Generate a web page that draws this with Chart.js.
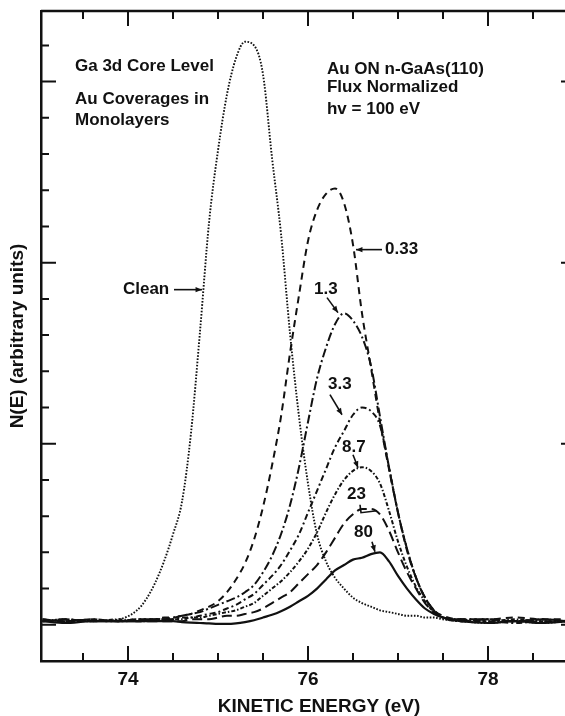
<!DOCTYPE html>
<html>
<head>
<meta charset="utf-8">
<title>Ga 3d core level, Au on n-GaAs(110)</title>
<script src="https://cdn.jsdelivr.net/npm/chart.js@4.4.1/dist/chart.umd.min.js"></script>
<style>
  html, body { margin: 0; padding: 0; background: #fff; overflow: hidden; }
  #wrap { width: 600px; height: 716px; }
</style>
</head>
<body>
<div id="wrap"><canvas id="spectra" width="600" height="716"></canvas></div>
<script>
const ink = '#111';
const FONT = 'Liberation Sans';

// kinetic energy grid (eV)
const energy = [73.05, 73.3, 73.6, 73.9, 74.1, 74.2, 74.3, 74.4, 74.5, 74.6, 74.7, 74.8, 74.9,
  75.0, 75.1, 75.2, 75.3, 75.4, 75.5, 75.6, 75.7, 75.8, 75.9, 76.0, 76.1, 76.2, 76.3, 76.4,
  76.5, 76.6, 76.7, 76.8, 76.9, 77.0, 77.1, 77.2, 77.3, 77.4, 77.5, 77.7, 78.0, 78.3, 78.6, 78.9];

// N(E) for each Au coverage (monolayers), flux normalized
const clean = [0.02, 0.03, 0.02, 0.03, 0.08, 0.14, 0.23, 0.35, 0.5, 0.68, 1.06, 1.62, 2.22,
  2.62, 2.93, 3.13, 3.22, 3.2, 3.04, 2.58, 2.16, 1.61, 1.15, 0.78, 0.5, 0.35, 0.26, 0.2,
  0.15, 0.12, 0.1, 0.08, 0.07, 0.06, 0.05, 0.05, 0.04, 0.04, 0.03, 0.02, 0.01, 0.02, 0.01, 0.02];
const cov033 = [0.03, 0.02, 0.03, 0.02, 0.03, 0.03, 0.03, 0.04, 0.04, 0.05, 0.06, 0.08, 0.1,
  0.13, 0.18, 0.25, 0.34, 0.47, 0.65, 0.88, 1.15, 1.5, 1.82, 2.12, 2.29, 2.38, 2.41, 2.33,
  2.1, 1.72, 1.42, 1.12, 0.86, 0.62, 0.41, 0.26, 0.15, 0.08, 0.05, 0.03, 0.03, 0.04, 0.03, 0.03];
const cov13 = [0.02, 0.03, 0.02, 0.02, 0.03, 0.03, 0.03, 0.03, 0.04, 0.05, 0.06, 0.07, 0.09,
  0.11, 0.13, 0.15, 0.18, 0.22, 0.29, 0.38, 0.5, 0.66, 0.87, 1.12, 1.36, 1.53, 1.66, 1.72,
  1.68, 1.59, 1.43, 1.15, 0.87, 0.62, 0.42, 0.26, 0.15, 0.08, 0.04, 0.03, 0.03, 0.02, 0.03, 0.02];
const cov33 = [0.02, 0.02, 0.03, 0.02, 0.02, 0.03, 0.03, 0.03, 0.03, 0.04, 0.04, 0.05, 0.06,
  0.07, 0.09, 0.11, 0.14, 0.17, 0.22, 0.27, 0.33, 0.41, 0.5, 0.62, 0.74, 0.86, 0.98, 1.07,
  1.16, 1.2, 1.18, 1.1, 0.87, 0.62, 0.42, 0.26, 0.15, 0.08, 0.04, 0.02, 0.02, 0.01, 0.02, 0.02];
const cov87 = [0.03, 0.02, 0.02, 0.03, 0.02, 0.02, 0.03, 0.03, 0.03, 0.03, 0.04, 0.04, 0.05,
  0.06, 0.07, 0.08, 0.1, 0.12, 0.16, 0.2, 0.24, 0.29, 0.35, 0.42, 0.51, 0.62, 0.72, 0.8,
  0.85, 0.87, 0.85, 0.78, 0.63, 0.46, 0.32, 0.21, 0.13, 0.07, 0.04, 0.03, 0.02, 0.03, 0.02, 0.02];
const cov23 = [0.02, 0.03, 0.02, 0.02, 0.02, 0.02, 0.02, 0.02, 0.02, 0.02, 0.03, 0.03, 0.03,
  0.04, 0.05, 0.05, 0.06, 0.07, 0.09, 0.12, 0.15, 0.18, 0.23, 0.28, 0.33, 0.4, 0.48, 0.56,
  0.61, 0.64, 0.64, 0.61, 0.52, 0.4, 0.29, 0.2, 0.12, 0.07, 0.04, 0.02, 0.03, 0.02, 0.03, 0.02];
const cov80 = [0.02, 0.01, 0.02, 0.02, 0.02, 0.02, 0.02, 0.02, 0.02, 0.015, 0.012, 0.01, 0.008,
  0.005, 0.005, 0.008, 0.015, 0.025, 0.04, 0.055, 0.075, 0.1, 0.13, 0.16, 0.2, 0.25, 0.3, 0.33,
  0.36, 0.37, 0.39, 0.4, 0.35, 0.27, 0.2, 0.14, 0.09, 0.06, 0.04, 0.02, 0.01, 0.02, 0.01, 0.02];

const coverages = ['Clean', '0.33', '1.3', '3.3', '8.7', '23', '80'];
const spectra = [clean, cov033, cov13, cov33, cov87, cov23, cov80];
const dashes = [[1.6, 1.6], [7, 5], [9, 3, 2, 3], [6, 3, 2, 3], [4, 2, 1.5, 2], [10, 5], []];
const widths = [1.9, 2, 2, 2, 2, 2, 2.2];

// curve labels: text anchor (left, middle) and pointer, in data units
const labels = [
  { text: 'Clean', x: 73.944, y: 1.851, line: [[74.511, 1.851], [74.822, 1.851]] },
  { text: '0.33', x: 76.856, y: 2.072, line: [[76.822, 2.072], [76.533, 2.072]] },
  { text: '1.3', x: 76.067, y: 1.851, line: [[76.211, 1.807], [76.333, 1.724]] },
  { text: '3.3', x: 76.222, y: 1.326, line: [[76.244, 1.271], [76.378, 1.16]] },
  { text: '8.7', x: 76.378, y: 0.978, line: [[76.5, 0.939], [76.556, 0.867]] },
  { text: '23', x: 76.433, y: 0.718, line: [[76.578, 0.663], [76.589, 0.619], [76.767, 0.63]], bracket: true },
  { text: '80', x: 76.511, y: 0.508, line: [[76.711, 0.459], [76.744, 0.403]] }
];
const notes = [
  { text: 'Ga 3d Core Level', x: 73.411, y: 3.083 },
  { text: 'Au Coverages in', x: 73.411, y: 2.901 },
  { text: 'Monolayers', x: 73.411, y: 2.785 },
  { text: 'Au ON n-GaAs(110)', x: 76.211, y: 3.066 },
  { text: 'Flux Normalized', x: 76.211, y: 2.967 },
  { text: 'hv = 100 eV', x: 76.211, y: 2.845 }
];

const isEven = v => Math.abs(v / 2 - Math.round(v / 2)) < 1e-6;
const isWhole = v => Math.abs(v - Math.round(v)) < 1e-6;

function arrowHead(ctx, x1, y1, x2, y2) {
  const a = Math.atan2(y2 - y1, x2 - x1);
  ctx.beginPath();
  ctx.moveTo(x2, y2);
  ctx.lineTo(x2 - 7 * Math.cos(a - 0.4), y2 - 7 * Math.sin(a - 0.4));
  ctx.lineTo(x2 - 7 * Math.cos(a + 0.4), y2 - 7 * Math.sin(a + 0.4));
  ctx.closePath();
  ctx.fill();
}

// inward tick marks, top/right frame, text and pointers
const decorations = {
  id: 'decorations',
  afterDraw(chart) {
    const { ctx, chartArea: a, scales: { x, y } } = chart;
    ctx.save();
    ctx.strokeStyle = ink;
    ctx.fillStyle = ink;

    ctx.lineWidth = 2.5;
    ctx.beginPath();
    ctx.moveTo(a.left, a.top); ctx.lineTo(a.right, a.top); ctx.lineTo(a.right, a.bottom);
    ctx.stroke();

    ctx.lineWidth = 2;
    ctx.beginPath();
    for (const t of x.ticks) {
      const px = x.getPixelForValue(t.value);
      const len = isEven(t.value) ? 15 : 8;
      ctx.moveTo(px, a.bottom); ctx.lineTo(px, a.bottom - len);
      ctx.moveTo(px, a.top); ctx.lineTo(px, a.top + len);
    }
    for (const t of y.ticks) {
      const py = y.getPixelForValue(t.value);
      const len = isWhole(t.value) ? 15 : 8;
      ctx.moveTo(a.left, py); ctx.lineTo(a.left + len, py);
      ctx.moveTo(a.right, py); ctx.lineTo(a.right - len, py);
    }
    ctx.stroke();

    ctx.font = `bold 17px "${FONT}"`;
    ctx.textAlign = 'left';
    ctx.textBaseline = 'middle';
    for (const n of notes) {
      ctx.fillText(n.text, x.getPixelForValue(n.x), y.getPixelForValue(n.y));
    }

    ctx.lineWidth = 1.6;
    for (const l of labels) {
      ctx.fillText(l.text, x.getPixelForValue(l.x), y.getPixelForValue(l.y));
      const pts = l.line.map(p => [x.getPixelForValue(p[0]), y.getPixelForValue(p[1])]);
      ctx.beginPath();
      pts.forEach((p, i) => i ? ctx.lineTo(p[0], p[1]) : ctx.moveTo(p[0], p[1]));
      ctx.stroke();
      if (!l.bracket) {
        const [p1, p2] = pts;
        arrowHead(ctx, p1[0], p1[1], p2[0], p2[1]);
      }
    }

    ctx.font = `bold 19px "${FONT}"`;
    ctx.textAlign = 'center';
    ctx.fillText('KINETIC ENERGY (eV)', 319, 707);
    ctx.restore();
  }
};

new Chart(document.getElementById('spectra'), {
  type: 'line',
  data: {
    datasets: spectra.map((vals, i) => ({
      label: coverages[i],
      data: energy.map((e, k) => ({ x: e, y: vals[k] })),
      borderColor: ink,
      borderWidth: widths[i],
      borderDash: dashes[i],
      pointRadius: 0,
      fill: false,
      cubicInterpolationMode: 'monotone'
    }))
  },
  options: {
    responsive: false,
    animation: false,
    devicePixelRatio: 1,
    layout: { padding: { left: 0, top: 11, right: 24, bottom: 0 } },
    plugins: { legend: { display: false }, tooltip: { enabled: false } },
    scales: {
      x: {
        type: 'linear',
        min: 73.0333,
        max: 78.9778,
        grid: { display: false, drawTicks: false },
        border: { display: true, color: ink, width: 2.5 },
        ticks: {
          stepSize: 0.5,
          includeBounds: false,
          autoSkip: false,
          maxRotation: 0,
          padding: 7,
          color: ink,
          font: { family: FONT, size: 19, weight: 'bold' },
          callback: v => isEven(v) ? String(Math.round(v)) : ''
        },
        afterFit: s => { s.height = 55; }
      },
      y: {
        min: -0.2,
        max: 3.39,
        grid: { display: false, drawTicks: false },
        border: { display: true, color: ink, width: 2.5 },
        ticks: { stepSize: 0.2, includeBounds: false, display: false },
        title: {
          display: true,
          text: 'N(E) (arbitrary units)',
          color: ink,
          font: { family: FONT, size: 19, weight: 'bold' },
          padding: { top: 6, bottom: 0 }
        },
        afterFit: s => { s.width = 41; }
      }
    }
  },
  plugins: [decorations]
});
</script>
</body>
</html>
